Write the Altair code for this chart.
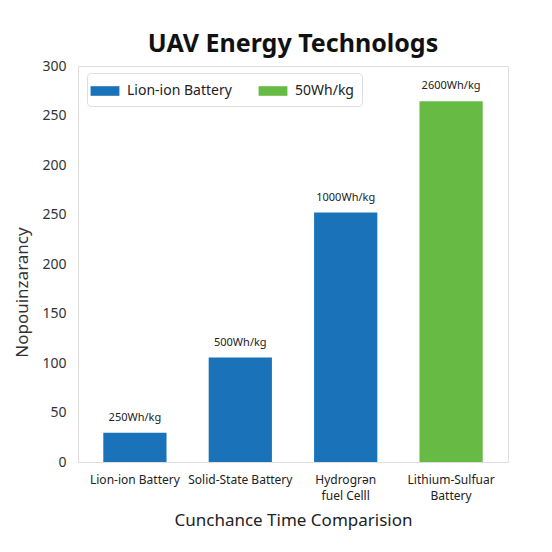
import altair as alt
import pandas as pd

categories = ["Lion-ion Battery", "Solid-State Battery", "Hydrogrən\nfuel Celll", "Lithium-Sulfuar\nBattery"]
values = [29.5, 105.5, 252, 364.5]
bar_labels = ["250Wh/kg", "500Wh/kg", "1000Wh/kg", "2600Wh/kg"]
series = ["Lion-ion Battery", "Lion-ion Battery", "Lion-ion Battery", "50Wh/kg"]
legend_names = ["Lion-ion Battery", "50Wh/kg"]
legend_colors = ["#1a73b8", "#67bb45"]
tick_values = [0, 50, 100, 150, 200, 250, 300, 350, 400]
tick_labels = ["0", "50", "100", "150", "200", "250", "200", "250", "300"]

df = pd.DataFrame({"cat": categories, "val": values, "lab": bar_labels, "ser": series})

label_expr = "[" + ",".join("'" + t + "'" for t in tick_labels) + "][round(datum.value/50)]"

FONT = "Noto Sans"

x = alt.X("cat:N", sort=categories,
          scale=alt.Scale(paddingInner=0.4, paddingOuter=0.24),
          axis=alt.Axis(title="Cunchance Time Comparision", labelAngle=0,
                        labelExpr="split(datum.label, '\\n')",
                        labelFontSize=12, labelColor="#222", labelLineHeight=16,
                        labelPadding=12, ticks=False, domain=False,
                        titleFontSize=17, titleFontWeight="normal", titleColor="#222",
                        titlePadding=11, labelFont=FONT, titleFont=FONT))
y = alt.Y("val:Q", scale=alt.Scale(domain=[0, 400]),
          axis=alt.Axis(title="Nopouinzarancy", values=tick_values, labelExpr=label_expr,
                        labelFontSize=14, labelColor="#333", labelPadding=12,
                        ticks=False, domain=False, grid=False,
                        titleFontSize=17, titleFontWeight="normal", titleColor="#333",
                        titleX=-56, titleY=226, titleBaseline="middle",
                        labelFont=FONT, titleFont=FONT))

bars = alt.Chart(df).mark_bar().encode(
    x=x, y=y,
    color=alt.Color("ser:N", scale=alt.Scale(domain=legend_names, range=legend_colors),
                    legend=alt.Legend(title=None, orient="none", legendX=9, legendY=7,
                                      direction="horizontal", columns=2,
                                      symbolType="M-1.5,-0.5L1.5,-0.5L1.5,0.5L-1.5,0.5Z",
                                      symbolSize=370, symbolStrokeWidth=0,
                                      labelFontSize=14, labelColor="#222", labelFont=FONT,
                                      labelOffset=12, columnPadding=26,
                                      padding=8, strokeColor="#dddddd", cornerRadius=4,
                                      fillColor="white"))
)

text = alt.Chart(df).mark_text(dy=-15, fontSize=11, color="#222", font=FONT).encode(
    x=alt.X("cat:N", sort=categories), y="val:Q", text="lab:N"
)

chart = alt.layer(bars, text).properties(
    width=430, height=396,
    title=alt.TitleParams("UAV Energy Technologs", fontSize=25, fontWeight="bold",
                          color="#111", anchor="middle", offset=2, font=FONT),
    autosize=alt.AutoSizeParams(type="none"),
    padding={"left": 70, "top": 58, "right": 30, "bottom": 86},
).configure_view(stroke="#dddddd", strokeWidth=1.5).configure(background="white")

chart.save("out.html", embed_options={"renderer": "svg", "actions": False})
